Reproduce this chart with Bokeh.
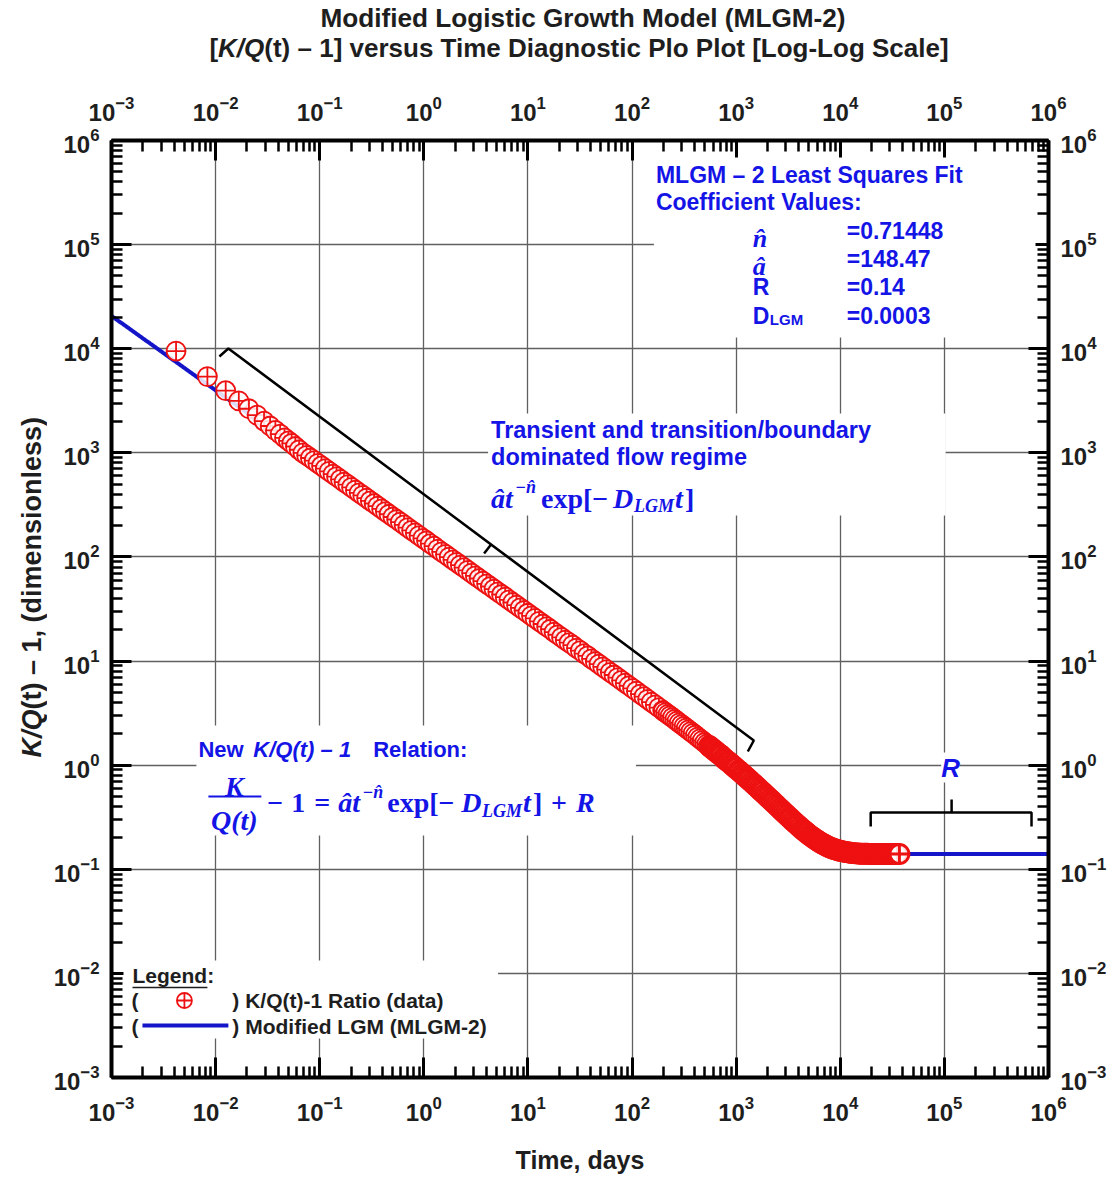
import numpy as np
from bokeh.plotting import figure
from bokeh.layouts import column, row
from bokeh.models import LogAxis, LogTicker, LogTickFormatter, Label, BoxAnnotation, Div
from bokeh.embed import file_html
from bokeh.resources import INLINE

# MLGM-2 least squares coefficients
N_HAT = 0.71448
A_HAT = 148.47
R_VAL = 0.14
D_LGM = 0.0003

# K/Q(t)-1 ratio data: time in days
T_DATA = [
    0.00417, 0.00834, 0.0125, 0.0167, 0.0209, 0.025, 0.0292, 0.0334, 0.0375, 0.0417, 0.0459, 0.05,
    0.0537, 0.0583, 0.0634, 0.0689, 0.0748, 0.0813, 0.0883, 0.0959, 0.104, 0.113, 0.123, 0.134,
    0.145, 0.158, 0.171, 0.186, 0.202, 0.22, 0.239, 0.259, 0.282, 0.306, 0.333, 0.361,
    0.393, 0.427, 0.463, 0.504, 0.547, 0.594, 0.646, 0.701, 0.762, 0.828, 0.899, 0.977,
    1.06, 1.15, 1.25, 1.36, 1.48, 1.61, 1.75, 1.9, 2.06, 2.24, 2.43, 2.64,
    2.87, 3.12, 3.39, 3.68, 4.0, 4.35, 4.72, 5.13, 5.57, 6.05, 6.58, 7.14,
    7.76, 8.43, 9.16, 9.95, 10.8, 11.7, 12.8, 13.9, 15.1, 16.4, 17.8, 19.3,
    21.0, 22.8, 24.8, 26.9, 29.2, 31.8, 34.5, 37.5, 40.7, 44.3, 48.1, 52.2,
    56.8, 61.7, 67.0, 72.8, 79.1, 85.9, 93.3, 101, 110, 120, 130, 141,
    153, 167, 181, 197, 200, 210, 221, 232, 244, 257, 270, 284,
    299, 315, 331, 348, 366, 385, 406, 427, 449, 472, 497, 522,
    550, 562, 586, 611, 637, 664, 692, 721, 752, 783, 817, 851,
    887, 925, 964, 1000, 1050, 1090, 1140, 1190, 1240, 1290, 1340, 1400,
    1460, 1520, 1580, 1650, 1720, 1790, 1870, 1950, 2030, 2120, 2210, 2300,
    2400, 2500, 2610, 2720, 2830, 2950, 3080, 3210, 3340, 3480, 3630, 3780,
    3940, 4110, 4290, 4470, 4660, 4850, 5060, 5270, 5500, 5730, 5970, 6220,
    6490, 6760, 7050, 7350, 7660, 7980, 8320, 8670, 9040, 9420, 9820, 10200,
    10700, 11100, 11600, 12100, 12600, 13100, 13700, 14300, 14900, 15500, 16100, 16800,
    17500, 18300, 19100, 19900, 20700, 21600, 22500, 23400, 24400, 25500, 26500, 27700,
    28800, 30100, 31300, 32700, 34000, 35500, 37000,
]

# K/Q(t)-1, dimensionless
KQ_DATA = [
    9500, 5400, 3950, 3150, 2650, 2300, 2020, 1810, 1640, 1510, 1390, 1300,
    1230, 1150, 1070, 1000, 947, 892, 841, 793, 748, 705, 664, 624,
    590, 555, 524, 494, 466, 438, 413, 390, 367, 346, 326, 308,
    289, 273, 257, 242, 229, 216, 203, 191, 180, 170, 160, 151,
    143, 134, 127, 119, 112, 106, 99.6, 93.9, 88.7, 83.5, 78.8, 74.3,
    70.0, 65.9, 62.1, 58.6, 55.2, 52.0, 49.1, 46.2, 43.6, 41.1, 38.7, 36.5,
    34.4, 32.4, 30.6, 28.8, 27.2, 25.7, 24.1, 22.7, 21.4, 20.2, 19.0, 17.9,
    16.9, 15.9, 15.0, 14.2, 13.3, 12.6, 11.8, 11.2, 10.5, 9.9, 9.33, 8.8,
    8.28, 7.8, 7.35, 6.93, 6.52, 6.15, 5.79, 5.47, 5.14, 4.82, 4.55, 4.29,
    4.04, 3.79, 3.57, 3.35, 3.31, 3.2, 3.08, 2.97, 2.86, 2.75, 2.65, 2.55,
    2.45, 2.36, 2.27, 2.18, 2.1, 2.02, 1.94, 1.86, 1.79, 1.72, 1.65, 1.59,
    1.53, 1.5, 1.45, 1.4, 1.36, 1.31, 1.27, 1.23, 1.18, 1.14, 1.1, 1.07,
    1.03, 0.995, 0.96, 0.931, 0.892, 0.864, 0.83, 0.799, 0.771, 0.744, 0.719, 0.691,
    0.665, 0.641, 0.619, 0.595, 0.572, 0.551, 0.529, 0.509, 0.49, 0.47, 0.452, 0.435,
    0.418, 0.402, 0.386, 0.371, 0.357, 0.343, 0.33, 0.317, 0.306, 0.294, 0.283, 0.273,
    0.263, 0.253, 0.244, 0.236, 0.228, 0.221, 0.213, 0.207, 0.201, 0.195, 0.19, 0.185,
    0.18, 0.176, 0.172, 0.168, 0.165, 0.162, 0.159, 0.157, 0.155, 0.153, 0.151, 0.15,
    0.148, 0.147, 0.146, 0.145, 0.144, 0.143, 0.143, 0.142, 0.142, 0.141, 0.141, 0.141,
    0.141, 0.141, 0.14, 0.14, 0.14, 0.14, 0.14, 0.14, 0.14, 0.14, 0.14, 0.14,
    0.14, 0.14, 0.14, 0.14, 0.14, 0.14, 0.14,
]

X_RANGE = (1e-3, 1e6)
Y_RANGE = (1e-3, 1e6)

# fitted MLGM-2 curve from the coefficients above
t_fit = np.logspace(-3, 6, 600)
kq_fit = A_HAT * t_fit ** -N_HAT * np.exp(-D_LGM * t_fit) + R_VAL

W, H = 1113, 1180
TITLE_H = 70
YLAB_W = 50
FL, FR, FT, FB = 110, 1048, 140, 1077  # frame edges in page pixels

SANS = "Liberation Sans"
SERIF = "Liberation Serif"
BLUE = "#1414e6"
RED = "#ee1111"
LINE_BLUE = "#1414c8"
INK = "#1e1e1e"


def xd(px):
    lo, hi = np.log10(X_RANGE)
    return 10 ** (lo + (hi - lo) * (px - FL) / (FR - FL))


def yd(py):
    lo, hi = np.log10(Y_RANGE)
    return 10 ** (hi - (hi - lo) * (py - FT) / (FB - FT))


p = figure(width=W - YLAB_W, height=H - TITLE_H, x_axis_type="log", y_axis_type="log",
           x_range=X_RANGE, y_range=Y_RANGE, output_backend="svg",
           toolbar_location=None, min_border_left=FL - YLAB_W, min_border_right=W - FR,
           min_border_top=FT - TITLE_H, min_border_bottom=H - FB)
p.outline_line_color = None
p.background_fill_color = "white"
p.border_fill_color = "white"

ticker = LogTicker(num_minor_ticks=10)
fmt = LogTickFormatter()
p.add_layout(LogAxis(), "above")
p.add_layout(LogAxis(), "right")
for ax in p.axis:
    ax.ticker = ticker
    ax.formatter = fmt
    ax.axis_line_width = 4
    ax.axis_line_color = "black"
    ax.major_tick_line_width = 3
    ax.minor_tick_line_width = 2.5
    ax.major_tick_in = 20
    ax.major_tick_out = 0
    ax.minor_tick_in = 11
    ax.minor_tick_out = 0
    ax.major_label_text_font = SANS
    ax.major_label_text_font_size = "24px"
    ax.major_label_text_font_style = "bold"
    ax.major_label_text_color = INK
p.below[0].major_label_standoff = 18
p.above[0].major_label_standoff = 20
p.left[0].major_label_standoff = 12
p.right[0].major_label_standoff = 12
p.below[0].axis_label = "Time, days"
p.below[0].axis_label_text_font = SANS
p.below[0].axis_label_text_font_size = "25px"
p.below[0].axis_label_text_font_style = "bold"
p.below[0].axis_label_text_color = INK
p.below[0].axis_label_standoff = 22

p.xgrid.ticker = ticker
p.ygrid.ticker = ticker
p.grid.grid_line_color = "#606060"
p.grid.grid_line_width = 1.3
p.grid.minor_grid_line_color = None

# fitted model and data
p.line(t_fit, kq_fit, line_color=LINE_BLUE, line_width=4)
t_arr = np.array(T_DATA)
kq_arr = np.array(KQ_DATA)
early = t_arr < 550
p.scatter(t_arr[early], kq_arr[early], marker="circle_cross", size=19, line_color=RED,
          line_width=1.8, fill_color="white", fill_alpha=0.85)
p.scatter(t_arr[~early], kq_arr[~early], marker="circle_cross", size=19, line_color=RED,
          line_width=2.9, fill_color="white", fill_alpha=0.85)

# brackets
p.line([xd(218), xd(227), xd(753), xd(747)], [yd(356), yd(348), yd(740), yd(751)],
       line_color="black", line_width=2.5)
p.line([xd(490), xd(483)], [yd(544), yd(553)], line_color="black", line_width=2.5)
p.line([xd(870), xd(870), xd(1031), xd(1031)], [yd(826), yd(812), yd(812), yd(826)],
       line_color="black", line_width=2.5)
p.line([xd(951), xd(951)], [yd(812), yd(799)], line_color="black", line_width=2.5)

# white panels behind the annotation text
for l, r, t, b in [(653, 1035, 157, 337), (487, 945, 413, 515),
                   (195, 635, 725, 835), (122, 497, 960, 1038)]:
    p.add_layout(BoxAnnotation(left=xd(l), right=xd(r), top=yd(t), bottom=yd(b),
                               fill_color="white", fill_alpha=1, line_color=None))


def lab(px, py, text, size, style="bold", color=INK, font=SANS,
        align="left", baseline="middle", angle=0.0, bg=None):
    p.add_layout(Label(x=xd(px), y=yd(py), text=text, text_font=font,
                       text_font_size=f"{size}px", text_font_style=style,
                       text_color=color, text_align=align, text_baseline=baseline,
                       angle=angle, background_fill_color=bg))


def math(px, py, text, size=28, style="bold italic"):
    lab(px, py, text, size, style=style, color=BLUE, font=SERIF, baseline="alphabetic")


# coefficient block
lab(655, 174, "MLGM \u2013 2 Least Squares Fit", 23, color=BLUE)
lab(655, 201, "Coefficient Values:", 23, color=BLUE)
math(752, 238, "n\u0302", 26)
math(752, 266, "\u00e2", 26)
lab(752, 286, "R", 23, color=BLUE)
lab(752, 315, "D", 23, color=BLUE)
lab(769, 319, "LGM", 15, color=BLUE)
for yy, v in [(230, N_HAT), (258, A_HAT), (286, R_VAL), (315, D_LGM)]:
    lab(846, yy, "=%g" % v, 23, color=BLUE)

# transient regime note
lab(490, 429, "Transient and transition/boundary", 23.5, color=BLUE)
lab(490, 456, "dominated flow regime", 23.5, color=BLUE)
math(490, 498, "\u00e2t")
math(514, 486, "\u2212n\u0302", 18)
math(540, 498, "exp[\u2212", style="bold")
math(612, 498, "D")
math(633, 505, "LGM", 18)
math(674, 498, "t")
math(684, 498, "]", style="bold")

# K/Q(t)-1 relation
lab(197, 749, "New", 22, color=BLUE)
lab(252, 749, "K/Q(t) \u2013 1", 22, style="bold italic", color=BLUE)
lab(372, 749, "Relation:", 22, color=BLUE)
lab(233, 786, "K", 28, style="bold italic", color=BLUE, font=SERIF, align="center", baseline="alphabetic")
lab(233, 820, "Q(t)", 28, style="bold italic", color=BLUE, font=SERIF, align="center", baseline="alphabetic")
p.line([xd(207), xd(260)], [yd(796), yd(796)], line_color=BLUE, line_width=2.2, level="overlay")
math(266, 802, "\u2212", style="bold")
math(290, 802, "1", style="bold")
math(313, 802, "=", style="bold")
math(337, 802, "\u00e2t")
math(361, 791, "\u2212n\u0302", 18)
math(386, 802, "exp[\u2212", style="bold")
math(460, 802, "D")
math(481, 810, "LGM", 18)
math(522, 802, "t")
math(532, 802, "]", style="bold")
math(550, 802, "+", style="bold")
math(575, 802, "R")

# R marker
lab(950, 767, "R", 26, style="bold italic", color=BLUE, align="center", bg="white")

# legend
lab(131, 975, "Legend:", 21)
p.line([xd(131), xd(206)], [yd(987), yd(987)], line_color=INK, line_width=1.6, level="overlay")
lab(130, 1000, "(", 21)
p.scatter([xd(183)], [yd(1000)], marker="circle_cross", size=15, line_color=RED,
          line_width=1.8, fill_color="white", level="overlay")
lab(231, 1000, ") K/Q(t)-1 Ratio (data)", 21)
lab(130, 1026, "(", 21)
p.line([xd(141), xd(227)], [yd(1025), yd(1025)], line_color=LINE_BLUE, line_width=4, level="overlay")
lab(231, 1026, ") Modified LGM (MLGM-2)", 21)

title = Div(
    text=(
        "<div style=\"font-family:'Liberation Sans';font-weight:bold;color:#1e1e1e;"
        "text-align:center;width:1113px;box-sizing:border-box;padding:3px 0 0 53px;\">"
        "<div style='font-size:26.2px;line-height:30px;'>Modified Logistic Growth Model (MLGM-2)</div>"
        "<div style='font-size:26px;line-height:30px;padding-right:8px;'>"
        "[<i>K/Q</i>(t) \u2013 1] versus Time Diagnostic Plo Plot [Log-Log Scale]</div></div>"
    ),
    width=W, height=TITLE_H, margin=(0, 0, 0, 0),
)
ylabel = Div(
    text=(
        "<div style=\"writing-mode:vertical-rl;transform:rotate(180deg);"
        "font-family:'Liberation Sans';font-weight:bold;font-size:27px;line-height:30px;"
        "white-space:nowrap;color:#1e1e1e;margin-top:347px;margin-left:17px;\">"
        "<i>K/Q</i>(t) \u2013 1, (dimensionless)</div>"
    ),
    width=YLAB_W, height=H - TITLE_H, margin=(0, 0, 0, 0),
)
p.margin = (0, 0, 0, 0)

layout = column(title, row(ylabel, p, spacing=0), spacing=0)
open("out.html", "w").write(file_html(layout, INLINE))
